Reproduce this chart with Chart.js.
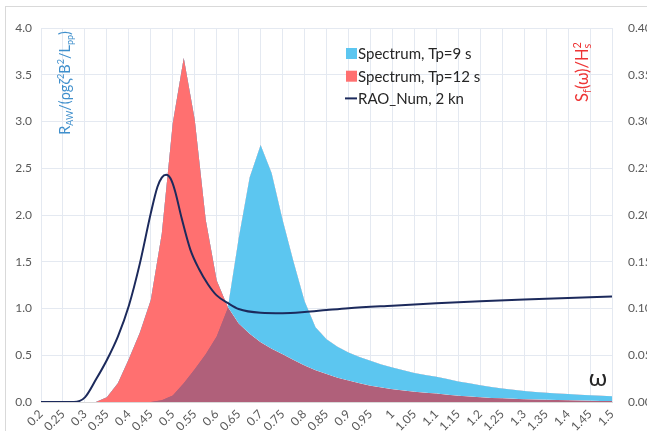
<!DOCTYPE html>
<html>
<head>
<meta charset="utf-8">
<script src="https://cdn.jsdelivr.net/npm/chart.js@4"></script>
<style>
  html, body { margin: 0; padding: 0; background: #fff; }
  #wrap { width: 647px; height: 431px; position: relative; }
</style>
</head>
<body>
<div id="wrap"><canvas id="grafico" width="647" height="431"></canvas></div>
<script>
// frecuencia (rad/s) de los espectros
const omega = [0.2, 0.225, 0.25, 0.275, 0.3, 0.325, 0.35, 0.375, 0.4, 0.425, 0.45, 0.475, 0.5, 0.525, 0.55, 0.575,
  0.6, 0.625, 0.65, 0.675, 0.7, 0.725, 0.75, 0.775, 0.8, 0.825, 0.85, 0.875, 0.9, 0.925, 0.95, 0.975,
  1.0, 1.025, 1.05, 1.075, 1.1, 1.125, 1.15, 1.175, 1.2, 1.225, 1.25, 1.275, 1.3, 1.325, 1.35, 1.375,
  1.4, 1.425, 1.45, 1.475, 1.5];

// S(w)/Hs^2, eje derecho
const spectrumTp9 = [0, 0, 0, 0, 0, 0, 0, 0, 0, 0, 0, 0.002, 0.007, 0.020, 0.035, 0.051,
  0.070, 0.100, 0.175, 0.240, 0.275, 0.245, 0.195, 0.150, 0.108, 0.080, 0.067, 0.059, 0.053, 0.048, 0.044, 0.040,
  0.037, 0.034, 0.031, 0.029, 0.027, 0.0245, 0.022, 0.020, 0.018, 0.016, 0.0145, 0.013, 0.0118, 0.0108, 0.010, 0.0092,
  0.0085, 0.0078, 0.0072, 0.0066, 0.0061];

const spectrumTp12 = [0, 0, 0, 0, 0, 0, 0.005, 0.020, 0.046, 0.074, 0.109, 0.180, 0.298, 0.368, 0.302, 0.195,
  0.130, 0.102, 0.084, 0.073, 0.064, 0.057, 0.051, 0.045, 0.039, 0.034, 0.030, 0.026, 0.023, 0.020, 0.0175, 0.0155,
  0.0137, 0.0122, 0.011, 0.010, 0.009, 0.0078, 0.0066, 0.0058, 0.005, 0.0044, 0.0039, 0.0034, 0.003, 0.0027, 0.0024, 0.0021,
  0.0018, 0.0016, 0.0014, 0.0012, 0.001];

// RAO numerico, eje izquierdo
const raoOmega = [0.2, 0.25, 0.275, 0.3, 0.325, 0.35, 0.375, 0.4, 0.425, 0.45, 0.465, 0.475, 0.485, 0.495, 0.505,
  0.52, 0.54, 0.56, 0.58, 0.6, 0.625, 0.65, 0.7, 0.75, 0.8, 0.85, 0.9, 1.0, 1.1, 1.2, 1.3, 1.4, 1.5];
const raoNum = [0, 0, 0, 0.05, 0.24, 0.45, 0.70, 1.03, 1.48, 2.02, 2.30, 2.40, 2.43, 2.39, 2.26,
  1.97, 1.63, 1.42, 1.26, 1.14, 1.06, 0.995, 0.955, 0.95, 0.962, 0.983, 1.003, 1.03, 1.055, 1.077, 1.096, 1.113, 1.128];

const xTicks = [0.2, 0.25, 0.3, 0.35, 0.4, 0.45, 0.5, 0.55, 0.6, 0.65, 0.7, 0.75, 0.8, 0.85, 0.9, 0.95,
  1, 1.05, 1.1, 1.15, 1.2, 1.25, 1.3, 1.35, 1.4, 1.45, 1.5];
const leftTicks = [0, 0.5, 1, 1.5, 2, 2.5, 3, 3.5, 4];
const rightTicks = [0, 0.05, 0.1, 0.15, 0.2, 0.25, 0.3, 0.35, 0.4];

const BLUE = '#5cc6f0';
const RED = '#ff7070';
const MAUVE = '#b0607a';
const NAVY = '#1c2a5c';
const FONT = 'Lato, "Liberation Sans", sans-serif';
const NONE = 'rgba(0,0,0,0)';

function pares(xs, ys) {
  return xs.map((x, i) => ({ x: x, y: ys[i] }));
}

// texto con subindices / superindices
function anchoRico(ctx, partes, size) {
  let w = 0;
  partes.forEach(p => {
    if (p[1] === 'n') {
      ctx.font = size + 'px ' + FONT;
      w += ctx.measureText(p[0]).width;
    } else if (p[1] === 'ss') {
      ctx.font = Math.round(size * 0.65) + 'px ' + FONT;
      w += Math.max(ctx.measureText(p[0]).width, ctx.measureText(p[2]).width);
    } else {
      ctx.font = Math.round(size * 0.65) + 'px ' + FONT;
      w += ctx.measureText(p[0]).width;
    }
  });
  return w;
}

function dibujarRico(ctx, partes, size, color) {
  let x = -anchoRico(ctx, partes, size) / 2;
  ctx.fillStyle = color;
  ctx.textBaseline = 'alphabetic';
  ctx.textAlign = 'left';
  const base = size * 0.35;
  partes.forEach(p => {
    if (p[1] === 'n') {
      ctx.font = size + 'px ' + FONT;
      ctx.fillText(p[0], x, base);
      x += ctx.measureText(p[0]).width;
    } else {
      ctx.font = Math.round(size * 0.65) + 'px ' + FONT;
      if (p[1] === 'sub') {
        ctx.fillText(p[0], x, base + size * 0.22);
        x += ctx.measureText(p[0]).width;
      } else if (p[1] === 'sup') {
        ctx.fillText(p[0], x, base - size * 0.4);
        x += ctx.measureText(p[0]).width;
      } else {
        ctx.fillText(p[0], x, base + size * 0.22);
        ctx.fillText(p[2], x, base - size * 0.4);
        x += Math.max(ctx.measureText(p[0]).width, ctx.measureText(p[2]).width);
      }
    }
  });
}

const decor = {
  id: 'decor',
  beforeDraw(chart) {
    const ctx = chart.ctx;
    ctx.save();
    ctx.fillStyle = '#fff';
    ctx.fillRect(0, 0, chart.width, chart.height);
    ctx.strokeStyle = '#d9d9d9';
    ctx.lineWidth = 1;
    ctx.strokeRect(5.5, 6.5, 700, 500);
    ctx.restore();
  },
  afterDraw(chart) {
    const ctx = chart.ctx;
    const ds = chart.data.datasets;
    ctx.save();

    // leyenda
    const filas = [
      { label: ds[1].label, color: BLUE, tipo: 'caja' },
      { label: ds[2].label, color: RED, tipo: 'caja' },
      { label: ds[0].label, color: NAVY, tipo: 'linea' }
    ];
    ctx.font = '15px ' + FONT;
    ctx.textBaseline = 'middle';
    filas.forEach((f, i) => {
      const y = 53 + i * 22.7;
      if (f.tipo === 'caja') {
        ctx.fillStyle = f.color;
        ctx.fillRect(346, y - 5, 11, 11);
      } else {
        ctx.strokeStyle = f.color;
        ctx.lineWidth = 2;
        ctx.beginPath();
        ctx.moveTo(345, y);
        ctx.lineTo(357, y);
        ctx.stroke();
      }
      ctx.fillStyle = '#262626';
      ctx.textAlign = 'left';
      ctx.fillText(f.label, 358, y + 1);
    });

    // titulo eje izquierdo
    ctx.save();
    ctx.translate(65, 83);
    ctx.rotate(-Math.PI / 2);
    dibujarRico(ctx, [['R', 'n'], ['AW', 'sub'], ['/(ρgζ', 'n'], ['2', 'sup'], ['B', 'n'], ['2', 'sup'],
      ['/L', 'n'], ['pp', 'sub'], [')', 'n']], 14.5, '#3f8fcc');
    ctx.restore();

    // titulo eje derecho
    ctx.save();
    ctx.translate(582, 72);
    ctx.rotate(-Math.PI / 2);
    dibujarRico(ctx, [['S', 'n'], ['f', 'sub'], ['(ω)/H', 'n'], ['s', 'ss', '2']], 16.5, '#ee3535');
    ctx.restore();

    // simbolo omega
    ctx.fillStyle = '#262626';
    ctx.font = '24px ' + FONT;
    ctx.textAlign = 'center';
    ctx.textBaseline = 'middle';
    ctx.fillText('ω', 598, 378);
    ctx.restore();
  }
};

const ctx = document.getElementById('grafico');
window.myChart = new Chart(ctx, {
  type: 'line',
  data: {
    datasets: [
      {
        label: 'RAO_Num, 2 kn',
        data: pares(raoOmega, raoNum),
        yAxisID: 'y',
        borderColor: NAVY,
        borderWidth: 2,
        pointRadius: 0,
        fill: false,
        cubicInterpolationMode: 'monotone'
      },
      {
        label: 'Spectrum, Tp=9 s',
        data: pares(omega, spectrumTp9),
        yAxisID: 'y2',
        borderColor: NONE,
        borderWidth: 0,
        pointRadius: 0,
        fill: { target: 2, above: BLUE, below: NONE }
      },
      {
        label: 'Spectrum, Tp=12 s',
        data: pares(omega, spectrumTp12),
        yAxisID: 'y2',
        borderColor: NONE,
        borderWidth: 0,
        pointRadius: 0,
        fill: { target: 1, above: RED, below: NONE }
      },
      {
        // zona comun de los dos espectros
        label: 'overlap',
        data: pares(omega, spectrumTp12),
        yAxisID: 'y2',
        borderColor: NONE,
        borderWidth: 0,
        pointRadius: 0,
        backgroundColor: MAUVE,
        fill: 'origin'
      }
    ]
  },
  options: {
    responsive: false,
    animation: false,
    layout: { padding: { left: 0, right: 0, top: 28, bottom: 0 } },
    plugins: {
      legend: { display: false },
      tooltip: { enabled: false }
    },
    scales: {
      x: {
        type: 'linear',
        min: 0.2,
        max: 1.5,
        afterBuildTicks: s => { s.ticks = xTicks.map(v => ({ value: v })); },
        afterFit: s => { s.height = 29; },
        ticks: {
          autoSkip: false,
          minRotation: 45,
          maxRotation: 45,
          padding: 5,
          color: '#595959',
          font: { family: FONT, size: 12 },
          callback: v => String(v)
        },
        grid: { color: '#e4e9f1', drawTicks: false },
        border: { color: '#d9d9d9' }
      },
      y: {
        position: 'left',
        min: 0,
        max: 4,
        afterBuildTicks: s => { s.ticks = leftTicks.map(v => ({ value: v })); },
        afterFit: s => { s.width = 41; },
        ticks: {
          padding: 9,
          color: '#595959',
          font: { family: FONT, size: 12 },
          callback: v => v.toFixed(1)
        },
        grid: { color: '#e4e9f1', drawTicks: false },
        border: { display: false }
      },
      y2: {
        position: 'right',
        min: 0,
        max: 0.4,
        afterBuildTicks: s => { s.ticks = rightTicks.map(v => ({ value: v })); },
        afterFit: s => { s.width = 35; },
        ticks: {
          padding: 16,
          color: '#595959',
          font: { family: FONT, size: 12 },
          callback: v => v.toFixed(2)
        },
        grid: { display: false, drawTicks: false },
        border: { display: false }
      }
    }
  },
  plugins: [decor]
});
</script>
</body>
</html>
